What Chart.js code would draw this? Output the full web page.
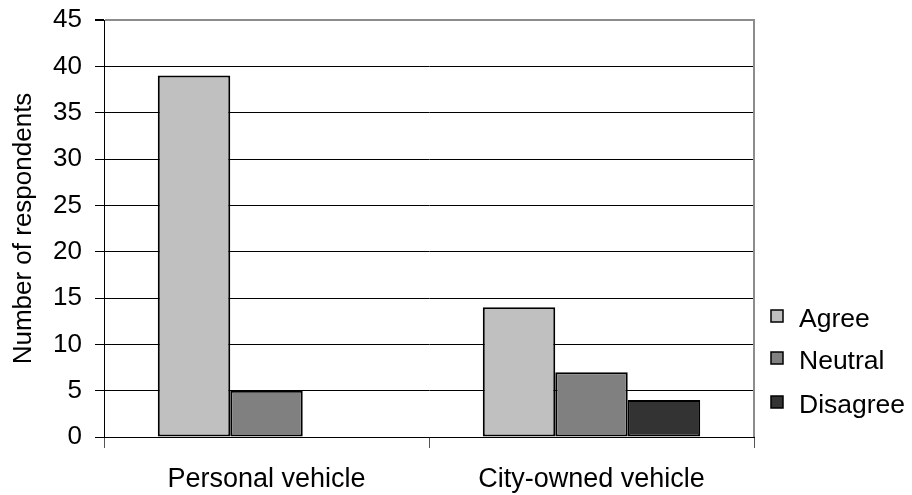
<!DOCTYPE html>
<html>
<head>
<meta charset="utf-8">
<script src="https://cdn.jsdelivr.net/npm/chart.js@4/dist/chart.umd.min.js"></script>
<style>
  html, body { margin: 0; padding: 0; background: #fff; }
  #wrap { width: 912px; height: 495px; }
</style>
</head>
<body>
<div id="wrap"><canvas id="c" width="912" height="495"></canvas></div>
<script>
// Survey responses by vehicle type
const categories = ['Personal vehicle', 'City-owned vehicle'];
const seriesNames = ['Agree', 'Neutral', 'Disagree'];
const agree = [39, 14];
const neutral = [5, 7];
const disagree = [0, 4];
const yTicks = [0, 5, 10, 15, 20, 25, 30, 35, 40, 45];

const FONT = '"Liberation Sans", Arial, sans-serif';
const fills = ['#c0c0c0', '#808080', '#333333'];

// Right-hand legend and the grey right border of the plot frame
const framePlugin = {
  id: 'frameAndLegend',
  afterDraw(chart) {
    const ctx = chart.ctx;
    const a = chart.chartArea;
    ctx.save();
    ctx.strokeStyle = '#8c8c8c';
    ctx.lineWidth = 2;
    ctx.beginPath();
    ctx.moveTo(a.right, a.top - 1);
    ctx.lineTo(a.right, a.bottom);
    ctx.stroke();

    const boxX = 771, boxSize = 12;
    const rowY = [316, 358, 402];
    ctx.font = '26.5px ' + FONT;
    ctx.textBaseline = 'alphabetic';
    ctx.textAlign = 'left';
    chart.data.datasets.forEach((ds, i) => {
      const cy = rowY[i];
      ctx.fillStyle = ds.backgroundColor;
      ctx.fillRect(boxX, cy - boxSize / 2, boxSize, boxSize);
      ctx.strokeStyle = '#000';
      ctx.lineWidth = 1.5;
      ctx.strokeRect(boxX, cy - boxSize / 2, boxSize, boxSize);
      ctx.fillStyle = '#000';
      ctx.fillText(ds.label, 799, cy + 11);
    });
    ctx.restore();
  }
};

const seriesValues = [agree, neutral, disagree];

new Chart(document.getElementById('c'), {
  type: 'bar',
  data: {
    labels: categories,
    datasets: seriesNames.map((name, i) => ({
      label: name,
      data: seriesValues[i],
      backgroundColor: fills[i],
      borderColor: '#000',
      borderWidth: 2,
      borderSkipped: false,
      categoryPercentage: 0.669,
      barPercentage: 1.0
    }))
  },
  options: {
    responsive: false,
    animation: false,
    devicePixelRatio: 1,
    layout: { padding: { left: 0, right: 158, top: 20, bottom: 0 } },
    plugins: {
      legend: { display: false },
      tooltip: { enabled: false }
    },
    scales: {
      x: {
        grid: {
          display: true,
          drawOnChartArea: false,
          drawTicks: true,
          tickLength: 11,
          color: '#000',
          tickColor: '#555'
        },
        border: { display: true, color: '#000', width: 1 },
        ticks: {
          color: '#000',
          font: { family: FONT, size: 27 },
          padding: 15,
          maxRotation: 0
        },
        afterFit(scale) { scale.height = 58; }
      },
      y: {
        min: 0,
        max: 45,
        afterBuildTicks(scale) {
          scale.ticks = yTicks.map(v => ({ value: v }));
        },
        grid: {
          color: ctx => (ctx.tick && ctx.tick.value === 45) ? '#8c8c8c' : '#000',
          lineWidth: ctx => (ctx.tick && ctx.tick.value === 45) ? 2 : 1,
          tickColor: '#000',
          tickLength: 9,
          drawTicks: true
        },
        border: { display: true, color: '#000', width: 1 },
        ticks: {
          color: '#000',
          font: { family: FONT, size: 26, lineHeight: 0.4 },
          padding: 13
        },
        title: {
          display: true,
          text: 'Number of respondents',
          color: '#000',
          font: { family: FONT, size: 26 },
          padding: { top: 8, bottom: 0 }
        },
        afterFit(scale) { scale.width = 104; }
      }
    }
  },
  plugins: [framePlugin]
});
</script>
</body>
</html>
